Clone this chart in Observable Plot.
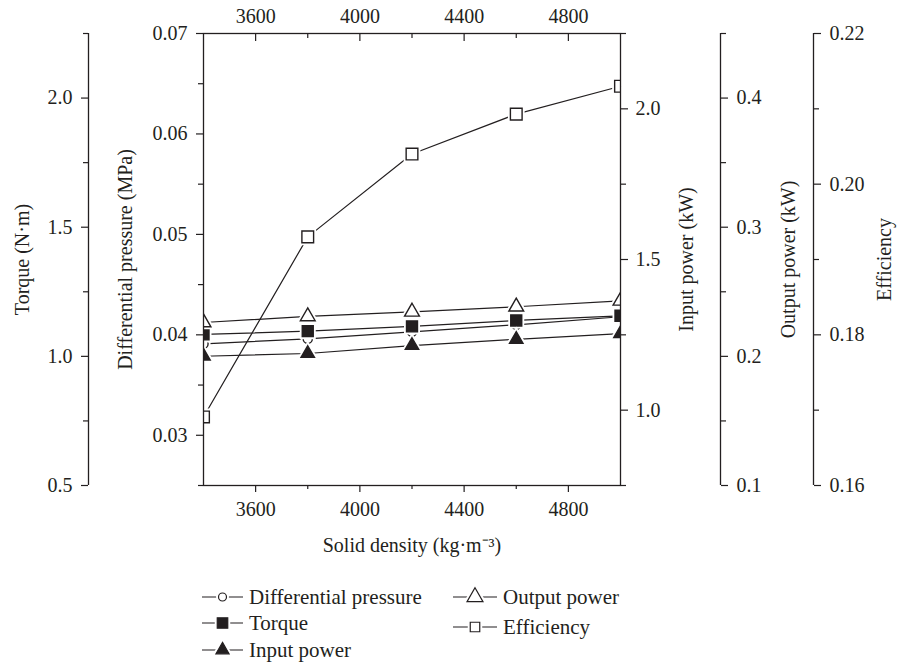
<!DOCTYPE html>
<html>
<head>
<meta charset="utf-8">
<script src="https://cdn.jsdelivr.net/npm/d3@7"></script>
<script src="https://cdn.jsdelivr.net/npm/@observablehq/plot@0.6"></script>
<style>
  body { margin: 0; background: #fff; }
  #wrap { position: relative; width: 899px; height: 665px; font-family: "Liberation Serif", "Times New Roman", serif; color: #231f20; overflow: hidden; }
  #wrap svg.main { position: absolute; left: 0; top: 0; }
  #wrap svg.main, #wrap svg.main text { font-family: "Liberation Serif", "Times New Roman", serif !important; }
  .leg { position: absolute; display: flex; align-items: center; font-size: 21px; line-height: 24px; white-space: nowrap; }
  .leg svg { margin-right: 6px; overflow: visible; }
</style>
</head>
<body>
<div id="wrap"></div>
<script>
// ---- data ----
const density = [3400, 3800, 4200, 4600, 5000];
const diffPressure = [0.0391, 0.0396, 0.0403, 0.0410, 0.0418];   // MPa
const torque = [1.085, 1.0975, 1.116, 1.139, 1.157];              // N·m
const inputPower = [1.179, 1.188, 1.2145, 1.235, 1.254];          // kW
const outputPower = [0.2262, 0.2309, 0.2345, 0.2384, 0.2430];     // kW
const efficiency = [0.1691, 0.1930, 0.2040, 0.2093, 0.2130];

// ---- axes ----
const xDomain = [3400, 5000];
const xTicks = [3600, 4000, 4400, 4800];
const xMinor = [3800, 4200, 4600];

const pressureDomain = [0.025, 0.07];
const pressureTicks = [0.03, 0.04, 0.05, 0.06, 0.07];
const pressureMinor = [0.025, 0.035, 0.045, 0.055, 0.065];

const torqueDomain = [0.5, 2.25];
const torqueTicks = [0.5, 1.0, 1.5, 2.0];
const torqueMinor = [0.75, 1.25, 1.75, 2.25];

const inputDomain = [0.75, 2.25];
const inputTicks = [1.0, 1.5, 2.0];
const inputMinor = [0.75, 1.25, 1.75, 2.25];

const outputDomain = [0.1, 0.45];
const outputTicks = [0.1, 0.2, 0.3, 0.4];
const outputMinor = [0.15, 0.25, 0.35, 0.45];

const effDomain = [0.16, 0.22];
const effTicks = [0.16, 0.18, 0.20, 0.22];
const effMinor = [0.17, 0.19, 0.21];

const ink = "#231f20";
const serif = '"Liberation Serif", "Times New Roman", serif';
const f1 = d3.format(".1f"), f2 = d3.format(".2f");

const series = [
  {name: "Differential pressure", values: diffPressure, domain: pressureDomain, symbol: "circle", r: 4.6, fill: "white"},
  {name: "Torque", values: torque, domain: torqueDomain, symbol: "square", r: 6.2, fill: ink},
  {name: "Input power", values: inputPower, domain: inputDomain, symbol: "triangle", r: 5.0, fill: ink},
  {name: "Output power", values: outputPower, domain: outputDomain, symbol: "triangle", r: 5.5, fill: "white"},
  {name: "Efficiency", values: efficiency, domain: effDomain, symbol: "square", r: 6.6, fill: "white"}
];

const marks = [];
for (const s of series) {
  const conv = d3.scaleLinear(s.domain, pressureDomain);
  const rows = density.map((x, i) => ({x, y: conv(s.values[i])}));
  marks.push(Plot.line(rows, {x: "x", y: "y", stroke: ink, strokeWidth: 1.2}));
  marks.push(Plot.dot(rows, {x: "x", y: "y", symbol: s.symbol, r: s.r, fill: "white", stroke: "white", strokeWidth: 5, clip: "frame"}));
  marks.push(Plot.dot(rows, {x: "x", y: "y", symbol: s.symbol, r: s.r, fill: s.fill, stroke: ink, strokeWidth: 1.4, clip: "frame"}));
}

function yAxis(domain, ticks, minor, fmt, anchor, dx, pad, label, labelOffset) {
  const conv = d3.scaleLinear(domain, pressureDomain);
  return [
    Plot.axisY(ticks.map(conv), {
      anchor, dx, tickSize: 7, tickPadding: pad, fontSize: 20, fontFamily: serif,
      tickFormat: d => fmt(conv.invert(d)),
      label, labelAnchor: "center", labelOffset, labelArrow: "none", strokeWidth: 1.2
    }),
    Plot.axisY(minor.map(conv), {anchor, dx, tickSize: 5, tickFormat: () => "", label: null, strokeWidth: 1.2})
  ];
}

marks.push(
  // standalone axis lines
  Plot.ruleX([xDomain[0]], {dx: -115, stroke: ink, strokeWidth: 1.3}),
  Plot.ruleX([xDomain[1]], {dx: 100, stroke: ink, strokeWidth: 1.3}),
  Plot.ruleX([xDomain[1]], {dx: 193, stroke: ink, strokeWidth: 1.3}),
  // x axes
  Plot.axisX(xTicks, {anchor: "bottom", tickSize: 7, tickPadding: 9, fontSize: 20, fontFamily: serif, tickFormat: d => String(d),
    label: "Solid density (kg·m⁻³)", labelAnchor: "center", labelOffset: 66, labelArrow: "none", strokeWidth: 1.2}),
  Plot.axisX(xMinor, {anchor: "bottom", tickSize: 4, tickFormat: () => "", label: null, strokeWidth: 1.2}),
  Plot.axisX(xTicks, {anchor: "top", tickSize: -7, tickPadding: 18, fontSize: 20, fontFamily: serif, tickFormat: d => String(d), label: null, strokeWidth: 1.2}),
  Plot.axisX(xMinor, {anchor: "top", tickSize: -4, tickFormat: () => "", label: null, strokeWidth: 1.2}),
  // y axes
  ...yAxis(pressureDomain, pressureTicks, pressureMinor, f2, "left", 0, 9, "Differential pressure (MPa)", 86),
  ...yAxis(torqueDomain, torqueTicks, torqueMinor, f1, "left", -115, 9, "Torque (N·m)", 189),
  ...yAxis(inputDomain, inputTicks, inputMinor, f1, "right", 0, 8, "Input power (kW)", 72),
  ...yAxis(outputDomain, outputTicks, outputMinor, f1, "right", 100, 9, "Output power (kW)", 174),
  ...yAxis(effDomain, effTicks, effMinor, f2, "right", 193, 9, "Efficiency", 270),
  Plot.frame({stroke: ink, strokeWidth: 1.3})
);

const chart = Plot.plot({
  className: "main",
  width: 899,
  height: 565,
  marginLeft: 203,
  marginRight: 279,
  marginTop: 33,
  marginBottom: 80,
  x: {domain: xDomain},
  y: {domain: pressureDomain},
  style: {fontFamily: serif, fontSize: "20px", color: ink, background: "transparent", overflow: "visible"},
  marks
});
chart.classList.add("main");

const wrap = document.getElementById("wrap");
wrap.appendChild(chart);

// ---- legend ----
const legendLayout = [
  {left: 202, top: 597, w: 41, size: 50, name: "Differential pressure"},
  {left: 202, top: 623, w: 41, size: 110, name: "Torque"},
  {left: 202, top: 650, w: 41, size: 75, name: "Input power"},
  {left: 453, top: 597, w: 44, size: 110, name: "Output power"},
  {left: 453, top: 627, w: 44, size: 90, name: "Efficiency"}
];
const symMap = {circle: d3.symbolCircle, square: d3.symbolSquare, triangle: d3.symbolTriangle};
for (const L of legendLayout) {
  const s = series.find(d => d.name === L.name);
  const div = document.createElement("div");
  div.className = "leg";
  div.style.left = L.left + "px";
  div.style.top = (L.top - 12) + "px";
  const svg = d3.create("svg").attr("width", L.w).attr("height", 24);
  svg.append("line").attr("x1", 0).attr("x2", L.w).attr("y1", 12).attr("y2", 12).attr("stroke", ink).attr("stroke-width", 1.2);
  svg.append("path")
    .attr("d", d3.symbol(symMap[s.symbol], L.size)())
    .attr("transform", `translate(${L.w / 2},12)`)
    .attr("fill", "white").attr("stroke", "white").attr("stroke-width", 5);
  svg.append("path")
    .attr("d", d3.symbol(symMap[s.symbol], L.size)())
    .attr("transform", `translate(${L.w / 2},12)`)
    .attr("fill", s.fill).attr("stroke", ink).attr("stroke-width", 1.2);
  div.appendChild(svg.node());
  const span = document.createElement("span");
  span.textContent = s.name;
  div.appendChild(span);
  wrap.appendChild(div);
}
</script>
</body>
</html>
